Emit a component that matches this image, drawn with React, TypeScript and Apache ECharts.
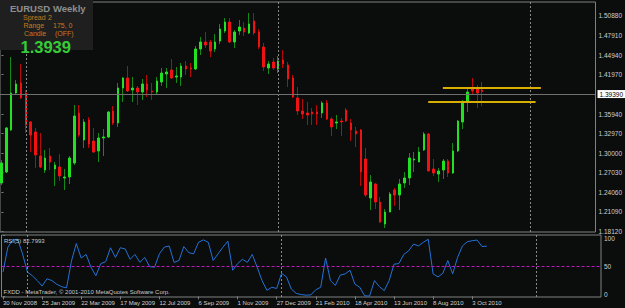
import React, { useEffect, useRef } from 'react';
import * as echarts from 'echarts';

// Weekly EURUSD candles, index 0 = week of 30 Nov 2008
const opens = [
  1.2547, 1.2714, 1.3353, 1.3916, 1.4068, 1.3916, 1.3475, 1.3323, 1.2957, 1.2744,
  1.2957, 1.2760, 1.2790, 1.2623, 1.2638, 1.2851, 1.3612, 1.3201, 1.3505, 1.3186,
  1.3034, 1.3231, 1.3247, 1.3642, 1.3460, 1.3992, 1.4144, 1.3962, 1.3992, 1.3931,
  1.4053, 1.3946, 1.3931, 1.4083, 1.4205, 1.4266, 1.4159, 1.4159, 1.4327, 1.4296,
  1.4281, 1.4586, 1.4692, 1.4692, 1.4586, 1.4707, 1.4859, 1.4996, 1.4692, 1.4859,
  1.4905, 1.4829, 1.5012, 1.4844, 1.4616, 1.4296, 1.4388, 1.4281, 1.4418, 1.4342,
  1.4144, 1.3840, 1.3642, 1.3612, 1.3627, 1.3627, 1.3612, 1.3764, 1.3520, 1.3460,
  1.3490, 1.3657, 1.3460, 1.3338, 1.3353, 1.2912, 1.2318, 1.2531, 1.2258, 1.1923,
  1.2105, 1.2440, 1.2364, 1.2547, 1.2623, 1.2896, 1.2866, 1.3049, 1.3292, 1.2760,
  1.2683, 1.2744, 1.2881, 1.2699, 1.3034, 1.3475, 1.3779, 1.3992, 1.3977, 1.3962,
];
const closes = [
  1.2851, 1.3384, 1.3916, 1.4053, 1.3840, 1.3429, 1.3277, 1.2973, 1.2790, 1.2927,
  1.2866, 1.2820, 1.2653, 1.2638, 1.2927, 1.3566, 1.3277, 1.3475, 1.3140, 1.3018,
  1.3231, 1.3247, 1.3627, 1.3460, 1.3992, 1.4144, 1.3946, 1.3992, 1.3931, 1.4053,
  1.3962, 1.3931, 1.4099, 1.4220, 1.4236, 1.4144, 1.4175, 1.4327, 1.4281, 1.4281,
  1.4586, 1.4692, 1.4646, 1.4555, 1.4692, 1.4890, 1.4996, 1.4692, 1.4844, 1.4920,
  1.4844, 1.4966, 1.4829, 1.4616, 1.4312, 1.4357, 1.4296, 1.4403, 1.4357, 1.4129,
  1.3855, 1.3642, 1.3596, 1.3581, 1.3596, 1.3596, 1.3764, 1.3520, 1.3399, 1.3475,
  1.3475, 1.3490, 1.3353, 1.3292, 1.2714, 1.2364, 1.2562, 1.2258, 1.1953, 1.2105,
  1.2379, 1.2364, 1.2531, 1.2623, 1.2927, 1.2912, 1.3018, 1.3292, 1.2729, 1.2699,
  1.2729, 1.2881, 1.2699, 1.3034, 1.3490, 1.3779, 1.3931, 1.3946, 1.3916, 1.3939,
];
const lows = [
  1.2516, 1.2699, 1.3338, 1.3886, 1.3825, 1.3307, 1.3018, 1.2775, 1.2775, 1.2699,
  1.2744, 1.2501, 1.2577, 1.2440, 1.2531, 1.2820, 1.3247, 1.3079, 1.3079, 1.3003,
  1.2866, 1.2957, 1.3231, 1.3429, 1.3399, 1.3779, 1.3931, 1.3779, 1.3733, 1.3810,
  1.3855, 1.3810, 1.3886, 1.4023, 1.3992, 1.4129, 1.4068, 1.4023, 1.4190, 1.4159,
  1.4266, 1.4494, 1.4601, 1.4464, 1.4540, 1.4662, 1.4829, 1.4677, 1.4601, 1.4799,
  1.4783, 1.4814, 1.4799, 1.4586, 1.4251, 1.4205, 1.4266, 1.4220, 1.4296, 1.4007,
  1.3840, 1.3581, 1.3520, 1.3429, 1.3429, 1.3429, 1.3536, 1.3505, 1.3262, 1.3368,
  1.3262, 1.3475, 1.3186, 1.3094, 1.2501, 1.2334, 1.2136, 1.2151, 1.1938, 1.1862,
  1.2105, 1.2197, 1.2136, 1.2471, 1.2516, 1.2714, 1.2866, 1.3034, 1.2729, 1.2653,
  1.2562, 1.2607, 1.2638, 1.2683, 1.3018, 1.3368, 1.3627, 1.3901, 1.3688, 1.3718,
];
const highs = [
  1.2896, 1.3399, 1.4464, 1.4114, 1.4357, 1.3962, 1.3490, 1.3384, 1.3307, 1.3049,
  1.3079, 1.2866, 1.2988, 1.2760, 1.2957, 1.3733, 1.3733, 1.3520, 1.3551, 1.3384,
  1.3307, 1.3368, 1.3642, 1.3718, 1.4068, 1.4159, 1.4327, 1.4159, 1.4023, 1.4129,
  1.4190, 1.4068, 1.4159, 1.4296, 1.4296, 1.4433, 1.4312, 1.4372, 1.4403, 1.4372,
  1.4631, 1.4768, 1.4844, 1.4723, 1.4814, 1.4966, 1.5057, 1.5057, 1.4875, 1.5027,
  1.4996, 1.5133, 1.5133, 1.4890, 1.4677, 1.4403, 1.4449, 1.4479, 1.4570, 1.4388,
  1.4190, 1.4007, 1.3825, 1.3779, 1.3688, 1.3733, 1.3794, 1.3810, 1.3551, 1.3581,
  1.3536, 1.3688, 1.3520, 1.3399, 1.3368, 1.3079, 1.2668, 1.2547, 1.2334, 1.2151,
  1.2410, 1.2471, 1.2607, 1.2714, 1.3003, 1.3018, 1.3094, 1.3323, 1.3307, 1.2912,
  1.2775, 1.2912, 1.2912, 1.3155, 1.3505, 1.3810, 1.4007, 1.4144, 1.4038, 1.4083,
];
const rsiValues = [
  40, 81, 93, 94, 70, 40, 34, 26, 17, 29,
  26, 20, 16, 14, 58, 87, 63, 69, 48, 34,
  54, 57, 80, 64, 80, 78, 61, 69, 56, 64,
  49, 48, 70, 81, 83, 56, 59, 82, 72, 70,
  89, 93, 89, 59, 70, 81, 91, 43, 54, 61,
  56, 69, 48, 26, 10, 15, 13, 38, 32, 12,
  5, 3, 2, 2.5, 11, 15, 63, 26, 18, 35,
  37, 43, 20, 15, 1, 0.5, 26, 16, 9.5, 26,
  53, 54, 69, 75, 86, 83, 89, 94, 37, 32,
  38, 59, 37, 64, 83, 90, 91.6, 92.7, 82, 82.7993,
];

const dateTickIdx = [0, 8, 16, 24, 32, 40, 48, 56, 64, 72, 80, 88, 96];
const dateTickLabels = [
  '30 Nov 2008', '25 Jan 2009', '22 Mar 2009', '17 May 2009', '12 Jul 2009',
  '6 Sep 2009', '1 Nov 2009', '27 Dec 2009', '21 Feb 2010', '18 Apr 2010',
  '13 Jun 2010', '8 Aug 2010', '3 Oct 2010',
];
const priceTicks = [1.1812, 1.2109, 1.2406, 1.2703, 1.3, 1.3297, 1.3594, 1.4197, 1.4494, 1.4791, 1.5088];
const rsiTicks = [0, 50, 100];
const separatorIdx = [5, 57, 109];
const currentPrice = 1.3939;
const levelLinesFrom = [90.9, 87.9];
const levelLinesTo = [111.1, 110.0];
const levelLinesPrice = [1.3997, 1.3779];

const FONT = "'Liberation Sans', Arial, sans-serif";
const BULL = '#22e022';
const BULL_WICK = '#168a16';
const BEAR = '#f01212';
const BEAR_WICK = '#b80808';

export default function App() {
  const ref = useRef<HTMLDivElement>(null);
  useEffect(() => {
    const chart = echarts.init(ref.current!, null, { renderer: 'svg', width: 625, height: 308 });
    const full = closes.map((c, i) => [i, opens[i], c, lows[i], highs[i]]);
    const bodies = closes.map((c, i) => [i, opens[i], c, Math.min(opens[i], c), Math.max(opens[i], c)]);
    const rsiData = rsiValues.map((v, i) => [i, v]);

    const xMin = -0.306;
    const xMax = 122.35;
    const axisLabelStyle = { color: '#d0d0d0', fontSize: 6.5, fontFamily: FONT };
    const infoFont = `7px ${FONT}`;
    const orange = '#c87a1e';

    chart.setOption({
      animation: false,
      backgroundColor: '#0b0c0c',
      grid: [
        { left: 0, top: 2, width: 601, height: 230, show: true, borderColor: '#808080', borderWidth: 1, backgroundColor: 'transparent' },
        { left: 0, top: 235, width: 601, height: 62, show: true, borderColor: '#808080', borderWidth: 1, backgroundColor: 'transparent' },
      ],
      xAxis: [
        {
          type: 'value', gridIndex: 0, min: xMin, max: xMax,
          axisLine: { show: false }, axisTick: { show: false }, axisLabel: { show: false }, splitLine: { show: false },
        },
        {
          type: 'value', gridIndex: 1, min: xMin, max: xMax,
          axisLine: { show: false },
          splitLine: { show: false },
          axisTick: { show: true, length: 3, customValues: dateTickIdx, lineStyle: { color: '#808080' } },
          axisLabel: {
            ...axisLabelStyle,
            fontSize: 6,
            customValues: dateTickIdx,
            align: 'left',
            margin: 2.5,
            formatter: (v: number) => {
              const k = dateTickIdx.indexOf(Math.round(v));
              return k >= 0 ? dateTickLabels[k] : '';
            },
          },
        },
      ],
      yAxis: [
        {
          type: 'value', gridIndex: 0, position: 'right', min: 1.1801, max: 1.53007, scale: true,
          axisLine: { show: false }, splitLine: { show: false },
          axisTick: { show: true, length: 2, customValues: priceTicks, lineStyle: { color: '#808080' } },
          axisLabel: { ...axisLabelStyle, customValues: priceTicks, margin: 3, formatter: (v: number) => v.toFixed(5) },
        },
        {
          type: 'value', gridIndex: 1, position: 'right', min: -1, max: 101,
          axisLine: { show: false }, splitLine: { show: false },
          axisTick: { show: true, length: 2, customValues: rsiTicks, lineStyle: { color: '#808080' } },
          axisLabel: {
            ...axisLabelStyle,
            customValues: rsiTicks,
            margin: 3,
            formatter: (v: number) => (v === 100 ? '{top|100}' : v === 0 ? '{bot|0}' : String(v)),
            rich: {
              top: { ...axisLabelStyle, padding: [5, 0, 0, 0] },
              bot: { ...axisLabelStyle, padding: [0, 0, 4, 0] },
            },
          },
        },
      ],
      series: [
        {
          type: 'candlestick', xAxisIndex: 0, yAxisIndex: 0, barWidth: 1, clip: true,
          itemStyle: { color: BULL_WICK, color0: BEAR_WICK, borderColor: BULL_WICK, borderColor0: BEAR_WICK, borderWidth: 1 },
          data: full,
          markLine: {
            silent: true, symbol: ['none', 'none'], label: { show: false },
            lineStyle: { color: '#8a8a8a', type: [2, 2], width: 1 },
            data: separatorIdx.map((x) => ({ xAxis: x })),
          },
        },
        {
          type: 'candlestick', xAxisIndex: 0, yAxisIndex: 0, barWidth: 2, clip: true,
          itemStyle: { color: BULL, color0: BEAR, borderColor: BULL, borderColor0: BEAR, borderWidth: 1 },
          data: bodies,
          markLine: {
            silent: true, symbol: ['none', 'none'],
            data: [
              {
                yAxis: currentPrice,
                lineStyle: { color: '#707070', type: 'solid', width: 1 },
                label: {
                  show: true, position: 'end', distance: 2, formatter: currentPrice.toFixed(5),
                  color: '#000000', backgroundColor: '#ffffff', padding: [1, 2, 0, 2],
                  fontSize: 6.5, fontFamily: FONT,
                },
              },
              ...levelLinesPrice.map((p, k) => [
                { coord: [levelLinesFrom[k], p], lineStyle: { color: '#d8ae00', width: 2, type: 'solid' }, label: { show: false } },
                { coord: [levelLinesTo[k], p] },
              ]),
            ],
          },
        },
        {
          type: 'line', xAxisIndex: 1, yAxisIndex: 1, data: rsiData, symbol: 'none', clip: true,
          lineStyle: { color: '#2472d8', width: 1 },
          markLine: {
            silent: true, symbol: ['none', 'none'], label: { show: false },
            data: [
              { yAxis: 50, lineStyle: { color: '#c018c0', type: [3, 2], width: 1 } },
              ...separatorIdx.map((x) => ({ xAxis: x, lineStyle: { color: '#8a8a8a', type: [2, 2], width: 1 } })),
            ],
          },
        },
      ],
      graphic: [
        { type: 'rect', left: 0, top: 0, shape: { x: 0, y: 0, width: 93, height: 50 }, style: { fill: '#1f1f1f' }, z: 100 },
        { type: 'text', x: 10, y: 8.5, z: 101, style: { text: 'EURUSD', fill: '#8e8e8e', font: `bold 9.5px ${FONT}`, verticalAlign: 'middle' } },
        { type: 'text', x: 53, y: 8.5, z: 101, style: { text: 'Weekly', fill: '#8e8e8e', font: `bold 9.5px ${FONT}`, verticalAlign: 'middle' } },
        { type: 'text', x: 23, y: 17.3, z: 101, style: { text: 'Spread', fill: orange, font: infoFont, verticalAlign: 'middle' } },
        { type: 'text', x: 48, y: 17.3, z: 101, style: { text: '2', fill: orange, font: infoFont, verticalAlign: 'middle' } },
        { type: 'text', x: 23.5, y: 25.5, z: 101, style: { text: 'Range', fill: orange, font: infoFont, verticalAlign: 'middle' } },
        { type: 'text', x: 53, y: 25.5, z: 101, style: { text: '175, 0', fill: orange, font: infoFont, verticalAlign: 'middle' } },
        { type: 'text', x: 24, y: 33.5, z: 101, style: { text: 'Candle', fill: orange, font: infoFont, verticalAlign: 'middle' } },
        { type: 'text', x: 55, y: 33.5, z: 101, style: { text: '(OFF)', fill: orange, font: infoFont, verticalAlign: 'middle' } },
        { type: 'text', x: 20.5, y: 46.5, z: 101, style: { text: '1.3939', fill: '#36cc36', font: `bold 16.5px ${FONT}`, verticalAlign: 'middle' } },
        { type: 'text', x: 4, y: 240.5, z: 101, style: { text: 'RSI(5) 82.7993', fill: '#c8c8c8', font: `6px ${FONT}`, verticalAlign: 'middle' } },
        { type: 'text', x: 3.5, y: 291.5, z: 101, style: { text: 'FXDD - MetaTrader, \u00a9 2001-2010 MetaQuotes Software Corp.', fill: '#c8c8c8', font: `6px ${FONT}`, verticalAlign: 'middle' } },
      ],
    });
    return () => chart.dispose();
  }, []);
  return <div ref={ref} style={{ position: 'fixed', left: 0, top: 0, width: 625, height: 308 }} />;
}
